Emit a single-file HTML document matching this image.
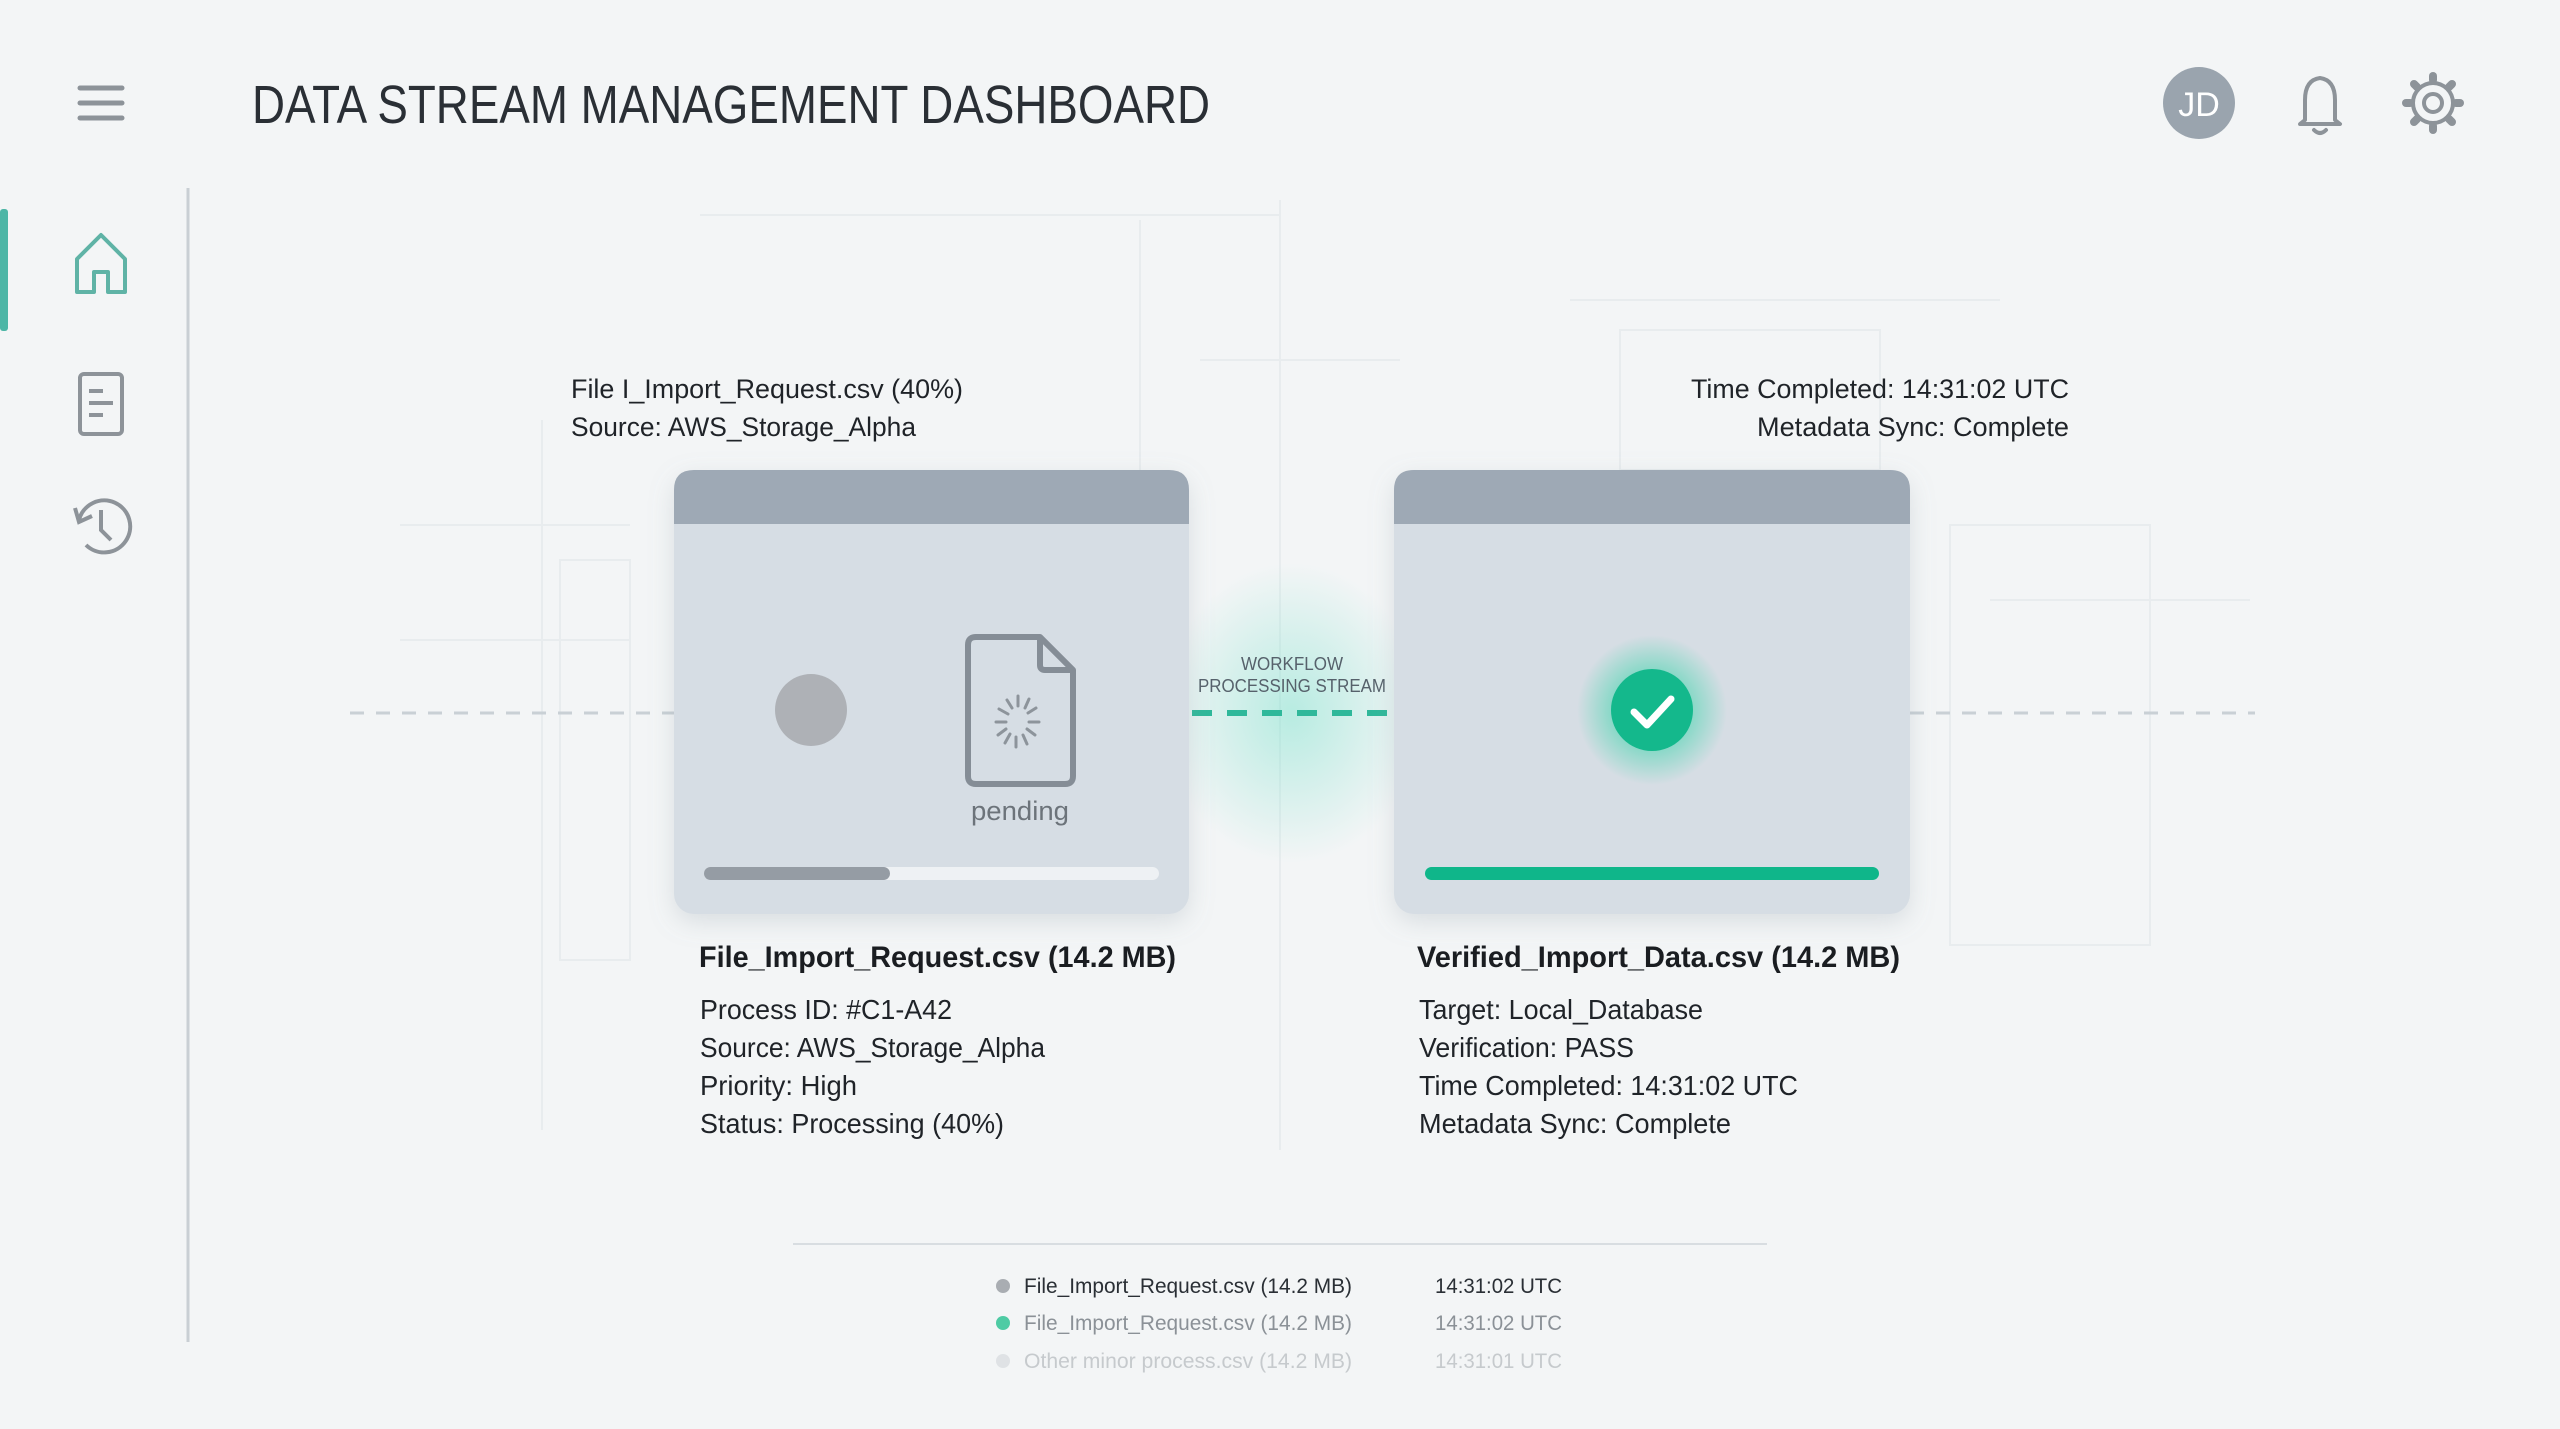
<!DOCTYPE html>
<html><head><meta charset="utf-8"><style>
html,body{margin:0;padding:0;background:#f3f5f6;}
svg{display:block;font-family:"Liberation Sans",sans-serif;}
</style></head><body>
<svg width="2560" height="1429" viewBox="0 0 2560 1429" xmlns="http://www.w3.org/2000/svg">
<defs>
<radialGradient id="glow" cx="50%" cy="50%" r="50%">
<stop offset="0%" stop-color="#6fe0c8" stop-opacity="0.45"/>
<stop offset="100%" stop-color="#6fe0c8" stop-opacity="0"/>
</radialGradient>
<radialGradient id="cglow" cx="50%" cy="50%" r="50%">
<stop offset="50%" stop-color="#2fd3a6" stop-opacity="0.5"/>
<stop offset="100%" stop-color="#2fd3a6" stop-opacity="0"/>
</radialGradient>
<filter id="sh" x="-10%" y="-10%" width="120%" height="130%">
<feDropShadow dx="0" dy="8" stdDeviation="12" flood-color="#8a96a3" flood-opacity="0.25"/>
</filter>
</defs>
<rect width="2560" height="1429" fill="#f3f5f6"/>
<g stroke="#e8ecee" stroke-width="2" fill="none">
<line x1="542" y1="420" x2="542" y2="1130"/>
<line x1="1280" y1="200" x2="1280" y2="1150"/>
<line x1="1140" y1="220" x2="1140" y2="470"/>
<line x1="700" y1="215" x2="1280" y2="215"/>
<line x1="400" y1="525" x2="630" y2="525"/>
<line x1="400" y1="640" x2="630" y2="640"/>
<rect x="560" y="560" width="70" height="400"/>
<rect x="1620" y="330" width="260" height="140"/>
<line x1="1570" y1="300" x2="2000" y2="300"/>
<rect x="1950" y="525" width="200" height="420"/>
<line x1="1990" y1="600" x2="2250" y2="600"/>
<line x1="1200" y1="360" x2="1400" y2="360"/>
</g>
<g stroke="#8d9399" stroke-width="5" stroke-linecap="round">
<line x1="80" y1="88" x2="122" y2="88"/><line x1="80" y1="103" x2="122" y2="103"/><line x1="80" y1="118" x2="122" y2="118"/>
</g>
<text x="252" y="123" font-size="54" fill="#2a2f35" textLength="958" lengthAdjust="spacingAndGlyphs">DATA STREAM MANAGEMENT DASHBOARD</text>
<circle cx="2199" cy="103" r="36" fill="#9aa4ae"/>
<text x="2199" y="116" font-size="34" fill="#fff" text-anchor="middle">JD</text>
<g fill="none" stroke="#8d9399" stroke-width="4" stroke-linejoin="round" stroke-linecap="round">
<path d="M2305 120 L2305 100 Q2305 80 2320 78 Q2335 80 2335 100 L2335 120 L2340 124 L2300 124 Z"/>
<path d="M2314 130 Q2320 136 2326 130"/>
<circle cx="2433" cy="103" r="9"/>
<circle cx="2433" cy="103" r="20"/>
<g stroke-width="8">
<line x1="2433" y1="80" x2="2433" y2="76"/><line x1="2433" y1="126" x2="2433" y2="130"/>
<line x1="2410" y1="103" x2="2406" y2="103"/><line x1="2456" y1="103" x2="2460" y2="103"/>
<line x1="2417" y1="87" x2="2414" y2="84"/><line x1="2449" y1="119" x2="2452" y2="122"/>
<line x1="2449" y1="87" x2="2452" y2="84"/><line x1="2417" y1="119" x2="2414" y2="122"/>
</g>
</g>
<line x1="188" y1="188" x2="188" y2="1342" stroke="#c9cfd4" stroke-width="3"/>
<rect x="0" y="209" width="8" height="122" rx="3" fill="#4db6a6"/>
<path d="M77 292 L77 259 L101 235 L125 259 L125 292 L108 292 L108 272 L94 272 L94 292 Z" fill="none" stroke="#5fb3a6" stroke-width="4" stroke-linejoin="round"/>
<rect x="80" y="374" width="42" height="60" rx="4" fill="none" stroke="#8d9399" stroke-width="4"/>
<g stroke="#8d9399" stroke-width="4"><line x1="89" y1="391" x2="103" y2="391"/><line x1="89" y1="403" x2="113" y2="403"/><line x1="89" y1="415" x2="103" y2="415"/></g>
<path d="M79 520 A26 26 0 1 1 86 545" fill="none" stroke="#8d9399" stroke-width="4"/>
<path d="M75 508 L79 522 L92 516" fill="none" stroke="#8d9399" stroke-width="4"/>
<path d="M101 510 L101 530 L111 540" fill="none" stroke="#8d9399" stroke-width="4"/>
<g font-size="27" fill="#1f2328">
<text x="571" y="398" textLength="392" lengthAdjust="spacingAndGlyphs">File I_Import_Request.csv (40%)</text>
<text x="571" y="436" textLength="345" lengthAdjust="spacingAndGlyphs">Source: AWS_Storage_Alpha</text>
<text x="1691" y="398" textLength="378" lengthAdjust="spacingAndGlyphs">Time Completed: 14:31:02 UTC</text>
<text x="1757" y="436" textLength="312" lengthAdjust="spacingAndGlyphs">Metadata Sync: Complete</text>
</g>
<ellipse cx="1292" cy="713" rx="130" ry="150" fill="url(#glow)"/>
<line x1="350" y1="713" x2="674" y2="713" stroke="#c9d0d5" stroke-width="3" stroke-dasharray="14 12"/>
<line x1="1910" y1="713" x2="2255" y2="713" stroke="#c9d0d5" stroke-width="3" stroke-dasharray="14 12"/>
<line x1="1192" y1="713" x2="1394" y2="713" stroke="#2fb89a" stroke-width="6" stroke-dasharray="20 15"/>
<g font-size="18" fill="#56616b" text-anchor="middle">
<text x="1292" y="670" textLength="102" lengthAdjust="spacingAndGlyphs">WORKFLOW</text>
<text x="1292" y="692" textLength="188" lengthAdjust="spacingAndGlyphs">PROCESSING STREAM</text>
</g>
<g filter="url(#sh)">
<rect x="674" y="470" width="515" height="444" rx="20" fill="#d6dde4"/>
</g>
<path d="M674 524 L674 490 Q674 470 694 470 L1169 470 Q1189 470 1189 490 L1189 524 Z" fill="#9ea9b5"/>
<circle cx="811" cy="710" r="36" fill="#aeb1b6"/>
<path d="M968 645 Q968 637 976 637 L1040 637 L1073 670 L1073 776 Q1073 784 1065 784 L976 784 Q968 784 968 776 Z" fill="none" stroke="#858d96" stroke-width="6" stroke-linejoin="round"/>
<path d="M1040 637 L1040 665 Q1040 670 1045 670 L1073 670" fill="none" stroke="#858d96" stroke-width="6" stroke-linejoin="round"/>
<g stroke="#8d949b" stroke-width="3" stroke-linecap="round">
<line x1="1018" y1="696" x2="1018" y2="706"/><line x1="1029" y1="699" x2="1025" y2="708"/><line x1="1036" y1="708" x2="1028" y2="713"/>
<line x1="1039" y1="722" x2="1029" y2="722"/><line x1="1035" y1="735" x2="1027" y2="729"/><line x1="1027" y1="744" x2="1023" y2="735"/>
<line x1="1016" y1="747" x2="1016" y2="737"/><line x1="1005" y1="743" x2="1010" y2="734"/><line x1="998" y1="735" x2="1006" y2="729"/>
<line x1="996" y1="722" x2="1006" y2="722"/><line x1="999" y1="709" x2="1008" y2="714"/><line x1="1007" y1="700" x2="1012" y2="708"/>
</g>
<text x="1020" y="820" font-size="27" fill="#6c737a" text-anchor="middle" textLength="98" lengthAdjust="spacingAndGlyphs">pending</text>
<rect x="704" y="867" width="455" height="13" rx="6.5" fill="#eef1f4"/>
<rect x="704" y="867" width="186" height="13" rx="6.5" fill="#959ca4"/>
<g filter="url(#sh)">
<rect x="1394" y="470" width="516" height="444" rx="20" fill="#d6dde4"/>
</g>
<path d="M1394 524 L1394 490 Q1394 470 1414 470 L1890 470 Q1910 470 1910 490 L1910 524 Z" fill="#9ea9b5"/>
<circle cx="1652" cy="710" r="75" fill="url(#cglow)"/>
<circle cx="1652" cy="710" r="41" fill="#14b88c"/>
<path d="M1634 712 L1647 725 L1671 699" fill="none" stroke="#fff" stroke-width="7" stroke-linecap="round" stroke-linejoin="round"/>
<rect x="1425" y="867" width="454" height="13" rx="6.5" fill="#0fb68a"/>
<g font-size="28" fill="#1f2328">
<text x="699" y="967" font-size="30" font-weight="bold" fill="#1a1d21" textLength="477" lengthAdjust="spacingAndGlyphs">File_Import_Request.csv (14.2 MB)</text>
<text x="700" y="1019" textLength="252" lengthAdjust="spacingAndGlyphs">Process ID: #C1-A42</text>
<text x="700" y="1057" textLength="345" lengthAdjust="spacingAndGlyphs">Source: AWS_Storage_Alpha</text>
<text x="700" y="1095" textLength="157" lengthAdjust="spacingAndGlyphs">Priority: High</text>
<text x="700" y="1133" textLength="304" lengthAdjust="spacingAndGlyphs">Status: Processing (40%)</text>
<text x="1417" y="967" font-size="30" font-weight="bold" fill="#1a1d21" textLength="483" lengthAdjust="spacingAndGlyphs">Verified_Import_Data.csv (14.2 MB)</text>
<text x="1419" y="1019" textLength="284" lengthAdjust="spacingAndGlyphs">Target: Local_Database</text>
<text x="1419" y="1057" textLength="215" lengthAdjust="spacingAndGlyphs">Verification: PASS</text>
<text x="1419" y="1095" textLength="379" lengthAdjust="spacingAndGlyphs">Time Completed: 14:31:02 UTC</text>
<text x="1419" y="1133" textLength="312" lengthAdjust="spacingAndGlyphs">Metadata Sync: Complete</text>
</g>
<line x1="793" y1="1244" x2="1767" y2="1244" stroke="#d8dde1" stroke-width="2"/>
<g font-size="21">
<circle cx="1003" cy="1286" r="7" fill="#a9adb2"/>
<text x="1024" y="1293" fill="#2a2f35" textLength="328" lengthAdjust="spacingAndGlyphs">File_Import_Request.csv (14.2 MB)</text>
<text x="1435" y="1293" fill="#2a2f35" textLength="127" lengthAdjust="spacingAndGlyphs">14:31:02 UTC</text>
<circle cx="1003" cy="1323" r="7" fill="#4ecba4"/>
<text x="1024" y="1330" fill="#8b9197" textLength="328" lengthAdjust="spacingAndGlyphs">File_Import_Request.csv (14.2 MB)</text>
<text x="1435" y="1330" fill="#8b9197" textLength="127" lengthAdjust="spacingAndGlyphs">14:31:02 UTC</text>
<circle cx="1003" cy="1361" r="7" fill="#dfe2e5"/>
<text x="1024" y="1368" fill="#c6cacd" textLength="328" lengthAdjust="spacingAndGlyphs">Other minor process.csv (14.2 MB)</text>
<text x="1435" y="1368" fill="#c6cacd" textLength="127" lengthAdjust="spacingAndGlyphs">14:31:01 UTC</text>
</g>
</svg>
</body></html>
